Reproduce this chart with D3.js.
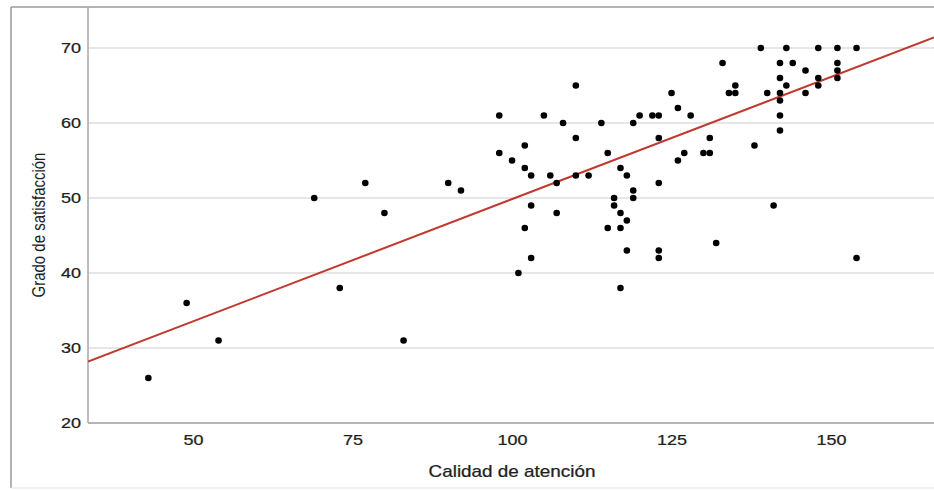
<!DOCTYPE html>
<html>
<head>
<meta charset="utf-8">
<script src="https://cdn.jsdelivr.net/npm/d3@7"></script>
<style>
  html, body { margin: 0; padding: 0; background: #fff; }
  text { font-family: "Liberation Sans", Arial, sans-serif; fill: #1e1e1e; }
</style>
</head>
<body>
<div id="chart"></div>
<script>
// Calidad de atención (x) vs Grado de satisfacción (y)
const calidad = [
  43, 49, 54, 69, 73, 77, 80, 83, 90, 92,
  98, 98, 100, 101, 102, 102, 102, 103, 103, 103,
  105, 106, 107, 107, 108, 110, 110, 110, 112, 114,
  115, 115, 116, 116, 117, 117, 117, 117, 118, 118, 118,
  119, 119, 119, 120, 122, 123, 123, 123, 123, 123,
  125, 126, 126, 127, 128, 130, 131, 131, 132,
  133, 134, 135, 135, 138, 139, 140, 141,
  142, 142, 142, 142, 142, 142, 143, 143, 144,
  146, 146, 148, 148, 148, 151, 151, 151, 151, 154, 154
];
const satisfaccion = [
  26, 36, 31, 50, 38, 52, 48, 31, 52, 51,
  61, 56, 55, 40, 57, 54, 46, 53, 49, 42,
  61, 53, 52, 48, 60, 65, 58, 53, 53, 60,
  56, 46, 50, 49, 54, 48, 46, 38, 53, 47, 43,
  60, 51, 50, 61, 61, 61, 58, 52, 43, 42,
  64, 62, 55, 56, 61, 56, 58, 56, 44,
  68, 64, 65, 64, 57, 70, 64, 49,
  68, 66, 64, 63, 61, 59, 70, 65, 68,
  67, 64, 70, 66, 65, 70, 68, 67, 66, 70, 42
];
// linear fit line as drawn (y = a + b x)
const fitIntercept = 17.25;
const fitSlope = 0.326;

const xTicks = [50, 75, 100, 125, 150];
const yTicks = [20, 30, 40, 50, 60, 70];
const xTitle = "Calidad de atención";
const yTitle = "Grado de satisfacción";

const width = 934;
const height = 490;
const plot = { left: 88, right: 934, top: 7, bottom: 423 };
const stretch = 1.2; // the picture's text is a bit wide

const x = d3.scaleLinear().domain([33.54, 166.14]).range([plot.left, plot.right]);
const y = d3.scaleLinear().domain([20, 75.47]).range([plot.bottom, plot.top]);

const svg = d3.select("#chart").append("svg")
  .attr("width", width)
  .attr("height", height);

// outer frame
svg.append("line").attr("x1", 11).attr("x2", width).attr("y1", 7).attr("y2", 7)
  .attr("stroke", "#9a9a9a").attr("stroke-width", 1.5);
svg.append("line").attr("x1", 11).attr("x2", 11).attr("y1", 7).attr("y2", 488)
  .attr("stroke", "#9a9a9a").attr("stroke-width", 1.5);
svg.append("line").attr("x1", 11).attr("x2", width).attr("y1", 488).attr("y2", 488)
  .attr("stroke", "#e4e4e4").attr("stroke-width", 1);

// gridlines
svg.append("g")
  .selectAll("line")
  .data(yTicks.filter((d) => d > 20))
  .join("line")
  .attr("x1", plot.left).attr("x2", plot.right)
  .attr("y1", (d) => y(d)).attr("y2", (d) => y(d))
  .attr("stroke", "#dedede").attr("stroke-width", 1.5);

// axis lines
svg.append("line").attr("x1", plot.left).attr("x2", plot.left)
  .attr("y1", plot.top).attr("y2", plot.bottom)
  .attr("stroke", "#a8a8a8").attr("stroke-width", 1.5);
svg.append("line").attr("x1", plot.left).attr("x2", plot.right)
  .attr("y1", plot.bottom).attr("y2", plot.bottom)
  .attr("stroke", "#b4b4b4").attr("stroke-width", 2);

// tick labels
const yAxis = d3.axisLeft(y).tickValues(yTicks).tickSize(0).tickPadding(0);
const gy = svg.append("g").attr("transform", `translate(${plot.left - 7},0)`).call(yAxis);
gy.select(".domain").remove();
gy.selectAll(".tick text")
  .attr("font-size", 15)
  .attr("font-family", "Liberation Sans, Arial, sans-serif")
  .attr("fill", "#1e1e1e")
  .attr("stroke", "#1e1e1e").attr("stroke-width", 0.25)
  .attr("transform", `scale(${stretch},1)`);

const xAxis = d3.axisBottom(x).tickValues(xTicks).tickSize(0).tickPadding(0);
const gx = svg.append("g").attr("transform", `translate(0,${plot.bottom + 11})`).call(xAxis);
gx.select(".domain").remove();
gx.selectAll(".tick text")
  .attr("font-size", 15)
  .attr("font-family", "Liberation Sans, Arial, sans-serif")
  .attr("fill", "#1e1e1e")
  .attr("stroke", "#1e1e1e").attr("stroke-width", 0.25)
  .attr("transform", `scale(${stretch},1)`);

// axis titles
svg.append("g")
  .attr("transform", `translate(${(plot.left + plot.right) / 2 + 1},477) scale(1.18,1)`)
  .append("text")
  .attr("text-anchor", "middle")
  .attr("font-size", 16)
  .attr("stroke", "#1e1e1e").attr("stroke-width", 0.25)
  .text(xTitle);

svg.append("g")
  .attr("transform", `translate(45,225) scale(1.2,1) rotate(-90)`)
  .append("text")
  .attr("text-anchor", "middle")
  .attr("font-size", 15)
  .text(yTitle);

// fit line
svg.append("defs").append("clipPath").attr("id", "clip")
  .append("rect")
  .attr("x", plot.left).attr("y", plot.top)
  .attr("width", plot.right - plot.left).attr("height", plot.bottom - plot.top);

const [x0, x1] = x.domain();
svg.append("line")
  .attr("clip-path", "url(#clip)")
  .attr("x1", x(x0)).attr("y1", y(fitIntercept + fitSlope * x0))
  .attr("x2", x(x1)).attr("y2", y(fitIntercept + fitSlope * x1))
  .attr("stroke", "#c0392f").attr("stroke-width", 2);

// points
svg.append("g")
  .selectAll("circle")
  .data(calidad.map((c, i) => [c, satisfaccion[i]]))
  .join("circle")
  .attr("cx", (d) => x(d[0]))
  .attr("cy", (d) => y(d[1]))
  .attr("r", 3.3)
  .attr("fill", "#000");
</script>
</body>
</html>
